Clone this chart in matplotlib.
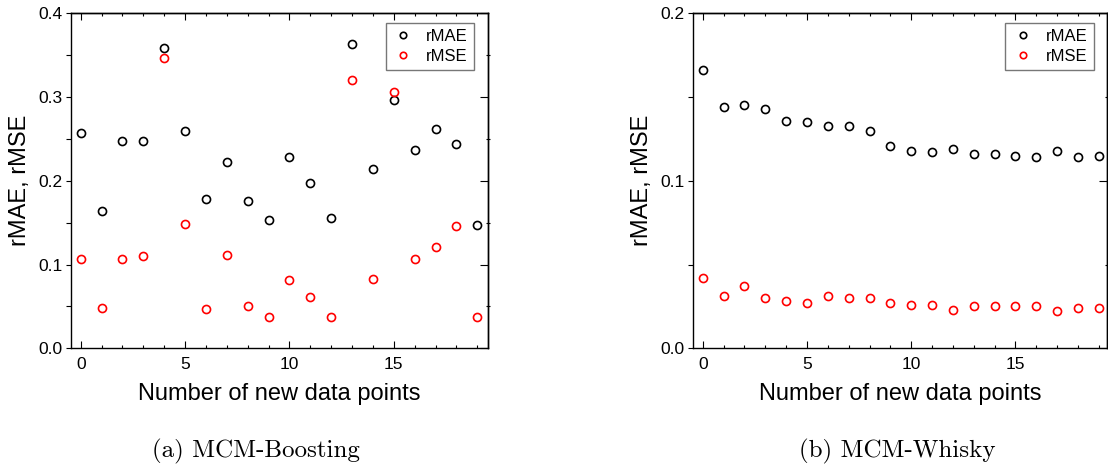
import numpy as np
import matplotlib
matplotlib.use("Agg")
import matplotlib.pyplot as plt
from matplotlib.ticker import MultipleLocator, FormatStrFormatter

plt.rcParams['font.family'] = ['Liberation Sans', 'DejaVu Sans']

# ===== data =====
n_points = list(range(20))

boost_rmae = [0.257, 0.164, 0.248, 0.248, 0.359, 0.260, 0.178, 0.223, 0.176, 0.153,
              0.229, 0.197, 0.155, 0.363, 0.214, 0.297, 0.237, 0.262, 0.244, 0.147]
boost_rmse = [0.107, 0.048, 0.107, 0.110, 0.347, 0.148, 0.047, 0.112, 0.050, 0.037,
              0.082, 0.061, 0.037, 0.320, 0.083, 0.306, 0.107, 0.121, 0.146, 0.037]

whisky_rmae = [0.166, 0.144, 0.145, 0.143, 0.136, 0.135, 0.133, 0.133, 0.130, 0.121,
               0.118, 0.117, 0.119, 0.116, 0.116, 0.115, 0.114, 0.118, 0.114, 0.115]
whisky_rmse = [0.042, 0.031, 0.037, 0.030, 0.028, 0.027, 0.031, 0.030, 0.030, 0.027,
               0.026, 0.026, 0.023, 0.025, 0.025, 0.025, 0.025, 0.022, 0.024, 0.024]

captions = ['(a) MCM-Boosting', '(b) MCM-Whisky']

W, H = 1108, 474
fig = plt.figure(figsize=(W / 100, H / 100), dpi=100)


def px_axes(x0, x1, y0, y1):
    # pixel box -> figure fraction
    return fig.add_axes([x0 / W, 1 - y1 / H, (x1 - x0) / W, (y1 - y0) / H])


def style_axes(ax, ymax, xlim):
    for sp in ax.spines.values():
        sp.set_linewidth(1.0)
    ax.set_xlim(*xlim)
    ax.set_ylim(0, ymax)
    ax.xaxis.set_major_locator(MultipleLocator(5))
    ax.xaxis.set_minor_locator(MultipleLocator(1))
    ax.yaxis.set_major_locator(MultipleLocator(0.1))
    ax.yaxis.set_minor_locator(MultipleLocator(0.05))
    ax.yaxis.set_major_formatter(FormatStrFormatter('%.1f'))

    # left: outward ticks, bottom: inward
    ax.tick_params(axis='y', which='both', direction='out', length=3.5, width=0.8,
                   labelsize=12.5, pad=2.5)
    ax.tick_params(axis='x', which='major', direction='in', length=5, width=0.8,
                   labelsize=12.5, pad=6)
    ax.tick_params(axis='x', which='minor', direction='in', length=2.5, width=0.8)

    # right / top mirror ticks
    ry = ax.secondary_yaxis('right')
    ry.yaxis.set_major_locator(MultipleLocator(0.1))
    ry.yaxis.set_minor_locator(MultipleLocator(0.05))
    ry.tick_params(which='major', direction='in', length=5.5, width=0.8, labelright=False)
    ry.tick_params(which='minor', direction='inout', length=3.5, width=0.8)
    ry.spines['right'].set_linewidth(1.0)

    tx = ax.secondary_xaxis('top')
    tx.xaxis.set_major_locator(MultipleLocator(5))
    tx.xaxis.set_minor_locator(MultipleLocator(1))
    tx.tick_params(which='major', direction='in', length=5, width=0.8, labeltop=False)
    tx.tick_params(which='minor', direction='in', length=2.5, width=0.8)
    tx.spines['top'].set_linewidth(1.0)

    ax.set_xlabel('Number of new data points', fontsize=17, labelpad=8)
    ax.set_ylabel('rMAE, rMSE', fontsize=17, labelpad=5)


panels = [
    (px_axes(70.7, 487.7, 13.3, 348.3), boost_rmae, boost_rmse, 0.4, (-0.48, 19.5)),
    (px_axes(692.7, 1107.2, 13.3, 348.3), whisky_rmae, whisky_rmse, 0.2, (-0.48, 19.4)),
]

for ax, rmae, rmse, ymax, xlim in panels:
    ax.plot(n_points, rmae, linestyle='None', marker='o', markersize=5.8,
            markerfacecolor='none', markeredgecolor='black', markeredgewidth=1.2,
            label='rMAE', clip_on=False)
    ax.plot(n_points, rmse, linestyle='None', marker='o', markersize=5.8,
            markerfacecolor='none', markeredgecolor='#ff0000', markeredgewidth=1.2,
            label='rMSE', clip_on=False)
    style_axes(ax, ymax, xlim)
    leg = ax.legend(loc='upper right', bbox_to_anchor=(0.967, 0.97), fontsize=12,
                    frameon=True, fancybox=False, borderpad=0.35, labelspacing=0.3,
                    handletextpad=0.7, handlelength=1.4, borderaxespad=0.0,
                    markerscale=0.8)
    leg.get_frame().set_edgecolor('#555555')
    leg.get_frame().set_linewidth(1.0)

# captions in a LaTeX-like serif
fig.text(256 / W, 1 - 451 / H, captions[0], fontsize=18, family='cmr10',
         ha='center', va='center')
fig.text(897 / W, 1 - 451 / H, captions[1], fontsize=18, family='cmr10',
         ha='center', va='center')

fig.savefig('out.png', dpi=100)
